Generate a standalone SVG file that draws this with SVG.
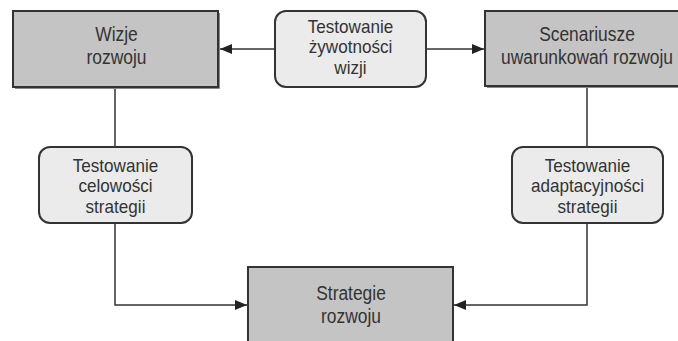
<svg xmlns="http://www.w3.org/2000/svg" width="678" height="341" viewBox="0 0 678 341">
  <style>
    .box { fill: #c4c4c4; stroke: #333333; stroke-width: 2; }
    .test { fill: #ebebeb; stroke: #333333; stroke-width: 2; }
    .shadow { fill: none; stroke: #8a8a8a; stroke-width: 1; }
    .lbl { font-family: "Liberation Sans", Arial, sans-serif; font-size: 20px; fill: #333333; text-anchor: middle; }
    .lbl.sm { font-size: 18px; }
    .wire { fill: none; stroke: #333333; stroke-width: 1.5; }
  </style>
  <defs>
    <marker id="arrow" viewBox="0 0 12 10" refX="12" refY="5" markerWidth="12" markerHeight="10" markerUnits="userSpaceOnUse" orient="auto">
      <path d="M0,0 L12,5 L0,10 Z" fill="#222222"/>
    </marker>
  </defs>
  <rect width="678" height="341" fill="#ffffff"/>

  <g id="connectors">
    <line class="wire" x1="275" y1="49" x2="220" y2="49" marker-end="url(#arrow)"/>
    <line class="wire" x1="426" y1="49" x2="484" y2="49" marker-end="url(#arrow)"/>
    <line class="wire" x1="115" y1="88" x2="115" y2="147"/>
    <polyline class="wire" points="115,223 115,305 247,305" marker-end="url(#arrow)"/>
    <line class="wire" x1="587" y1="87" x2="587" y2="147"/>
    <polyline class="wire" points="587,223 587,305 454,305" marker-end="url(#arrow)"/>
  </g>

  <!-- labels use a narrowed sans: each text is squeezed horizontally around its centre -->
  <g id="wizje">
    <path class="shadow" d="M15,88.5 H219.5 V13"/>
    <rect class="box" x="13" y="11" width="205" height="76"/>
    <text class="lbl" transform="translate(116.5,41) scale(0.87,1)">Wizje</text>
    <text class="lbl" transform="translate(116.5,64) scale(0.87,1)">rozwoju</text>
  </g>

  <g id="testowanie-zywotnosci">
    <rect class="test" x="275" y="11" width="151" height="76" rx="11" ry="11"/>
    <text class="lbl sm" transform="translate(350.5,32.5) scale(0.95,1)">Testowanie</text>
    <text class="lbl sm" transform="translate(350.5,53) scale(0.95,1)">żywotności</text>
    <text class="lbl sm" transform="translate(350.5,73.5) scale(0.95,1)">wizji</text>
  </g>

  <g id="scenariusze">
    <path class="shadow" d="M487,87.5 H680"/>
    <rect class="box" x="485" y="11" width="200" height="75"/>
    <text class="lbl" transform="translate(587,41) scale(0.87,1)">Scenariusze</text>
    <text class="lbl" transform="translate(587,64) scale(0.87,1)">uwarunkowań rozwoju</text>
  </g>

  <g id="testowanie-celowosci">
    <rect class="test" x="39" y="147" width="153" height="76" rx="11" ry="11"/>
    <text class="lbl sm" transform="translate(115.5,171.5) scale(0.95,1)">Testowanie</text>
    <text class="lbl sm" transform="translate(115.5,192) scale(0.95,1)">celowości</text>
    <text class="lbl sm" transform="translate(115.5,212.5) scale(0.95,1)">strategii</text>
  </g>

  <g id="testowanie-adaptacyjnosci">
    <rect class="test" x="512" y="147" width="151" height="76" rx="11" ry="11"/>
    <text class="lbl sm" transform="translate(587.5,171.5) scale(0.95,1)">Testowanie</text>
    <text class="lbl sm" transform="translate(587.5,192) scale(0.95,1)">adaptacyjności</text>
    <text class="lbl sm" transform="translate(587.5,212.5) scale(0.95,1)">strategii</text>
  </g>

  <g id="strategie">
    <rect class="box" x="248" y="267" width="205" height="90"/>
    <text class="lbl" transform="translate(351,300) scale(0.87,1)">Strategie</text>
    <text class="lbl" transform="translate(351,323) scale(0.87,1)">rozwoju</text>
  </g>
</svg>
